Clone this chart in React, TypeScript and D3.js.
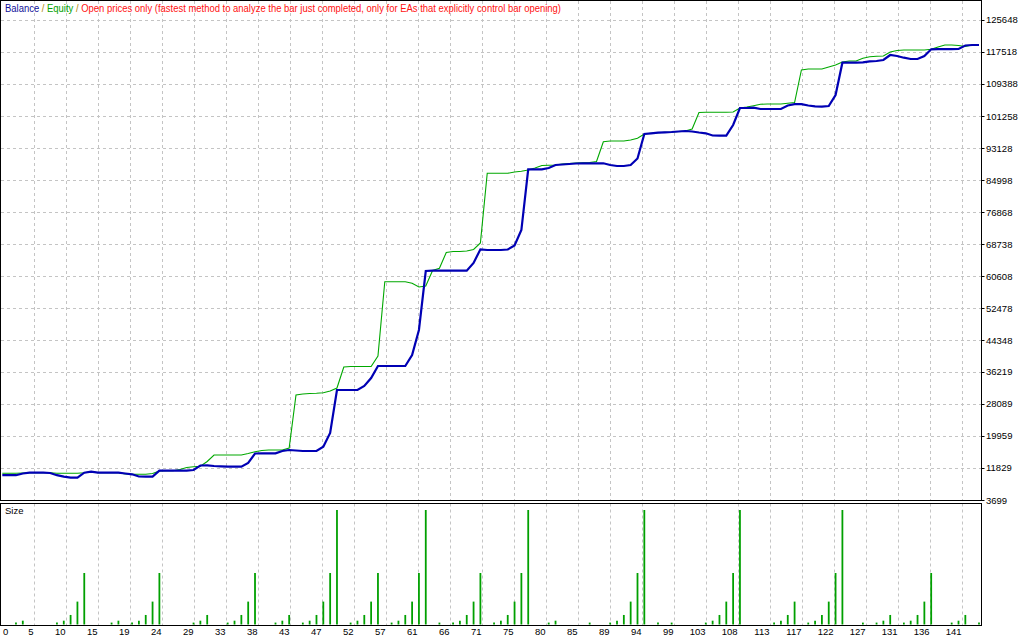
import React from 'react';
import * as d3 from 'd3';

// balance after each deal
const balance = [
  10000, 10000, 10000, 10432, 10635, 10635, 10635, 10559, 10000, 9619,
  9365, 9365, 10635, 10889, 10635, 10635, 10635, 10635, 10432, 10228,
  9669, 9619, 9619, 11143, 11143, 11143, 11143, 11143, 11321, 12464,
  12515, 12337, 12261, 12159, 12159, 12159, 13099, 15513, 15564, 15564,
  15564, 16148, 16402, 16275, 16148, 16148, 16148, 17240, 20721, 31646,
  31646, 31646, 31646, 32662, 34694, 37743, 37743, 37743, 37743, 37743,
  40538, 46889, 61879, 61955, 61955, 61955, 61955, 61955, 61955, 63911,
  67392, 67214, 67214, 67214, 67341, 68357, 72295, 87717, 87717, 87717,
  88047, 88809, 88936, 89063, 89190, 89241, 89241, 89241, 89241, 88809,
  88555, 88555, 88809, 90460, 96685, 96863, 97015, 97117, 97193, 97320,
  97447, 97320, 97066, 96863, 96304, 96253, 96253, 98972, 103291, 103291,
  103367, 103036, 103036, 103036, 103036, 103926, 104256, 104256, 103926, 103722,
  103621, 103799, 106593, 114799, 114799, 114799, 114901, 115155, 115231, 115485,
  116756, 116502, 116069, 115739, 115739, 116502, 118204, 118230, 118230, 118230,
  118280, 119169, 119296, 119296,
];

const equity = [
  10482, 10482, 10482, 10559, 10635, 10635, 10635, 10635, 10482, 10482,
  10482, 10482, 10635, 10889, 10635, 10635, 10635, 10635, 10305, 10228,
  10228, 10228, 10432, 11067, 11143, 11143, 11448, 11956, 12159, 12261,
  13480, 15132, 15132, 15132, 15132, 15132, 15513, 15970, 16275, 16402,
  16402, 16402, 16910, 30375, 30629, 30756, 30807, 30934, 31392, 32154,
  37489, 37616, 37616, 37616, 37616, 40284, 59160, 59160, 59160, 59160,
  58754, 57814, 58068, 62006, 62565, 66579, 66833, 66833, 66960, 67341,
  68992, 86700, 86700, 86700, 86700, 87031, 87209, 87539, 88047, 88682,
  88733, 88809, 89063, 89190, 89317, 89368, 89444, 89699, 94729, 94907,
  94907, 94907, 95161, 95593, 96685, 96863, 97015, 97117, 97193, 97320,
  97447, 97955, 102147, 102198, 102198, 102198, 102198, 102274, 103291, 103545,
  103875, 104231, 104307, 104307, 104307, 104485, 104688, 112945, 113199, 113199,
  113199, 113707, 114215, 114977, 115231, 115231, 115917, 116324, 116425, 116502,
  117518, 117899, 118026, 118026, 118026, 118026, 118204, 118788, 119296, 119296,
  119169, 118916, 119296, 119296,
];

// lot size per deal (0 = no bar)
const sizes = [
  0, 0, 0.1, 0.2, 0, 0, 0, 0, 0.1, 0.2,
  0.5, 1.2, 2.7, 0, 0, 0, 0.1, 0.2, 0, 0.1,
  0.2, 0.5, 1.2, 2.7, 0, 0, 0, 0, 0.1, 0.2,
  0.5, 0, 0, 0.1, 0.2, 0.5, 1.2, 2.7, 0, 0,
  0.1, 0.2, 0.5, 0, 0.1, 0.2, 0.5, 1.2, 2.7, 6.0,
  0, 0.1, 0.2, 0.5, 1.2, 2.7, 0, 0.1, 0.2, 0.5,
  1.2, 2.7, 6.0, 0, 0.1, 0, 0.1, 0.2, 0.5, 1.2,
  2.7, 0, 0.1, 0.2, 0.5, 1.2, 2.7, 6.0, 0, 0,
  0.1, 0.2, 0, 0, 0, 0, 0.1, 0, 0, 0.1,
  0.2, 0.5, 1.2, 2.7, 6.0, 0, 0.1, 0, 0.1, 0,
  0, 0, 0, 0.1, 0.2, 0.5, 1.2, 2.7, 6.0, 0,
  0, 0, 0, 0.1, 0.2, 0.5, 1.2, 0, 0.1, 0.2,
  0.5, 1.2, 2.7, 6.0, 0, 0, 0.1, 0, 0.1, 0.2,
  0.5, 0, 0.1, 0.2, 0.5, 1.2, 2.7, 0, 0, 0.1,
  0.2, 0.5, 0, 0.1,
];

const yTicks = [
  3699, 11829, 19959, 28089, 36219, 44348, 52478, 60608,
  68738, 76868, 84998, 93128, 101258, 109388, 117518, 125648,
];
const yDomain = [3699, 130729];

const xTickLabels = [
  '0', '5', '10', '15', '19', '24', '29', '33', '38', '43', '47',
  '52', '57', '61', '66', '71', '75', '80', '85', '89', '94',
  '99', '103', '108', '113', '117', '122', '127', '131', '136', '141',
];
const xTickStep = 4.686; // deals between vertical grid lines

const W = 1024;
const H = 640;
const axisX = 981.5;
const mainBottom = 500.5;
const sizeTop = 503.5;
const sizeBottom = 625.5;
const font = '"Liberation Sans", Arial, sans-serif';
const gridColor = '#c4c4c4';

const App: React.FC = () => {
  const x = d3.scaleLinear().domain([0, balance.length - 1]).range([2.3, 979]);
  const y = d3.scaleLinear().domain(yDomain).range([500, 0]);
  const ys = d3.scaleLinear().domain([0, d3.max(sizes) as number]).range([624.5, 510]);

  const line = d3
    .line<number>()
    .x((_, i) => x(i))
    .y((d) => y(d));

  const gridX = xTickLabels.map((_, k) => Math.round(x(k * xTickStep)) + 0.5);

  return (
    <svg
      width={W}
      height={H}
      style={{ position: 'absolute', left: 0, top: 0, background: '#fff' }}
      fontFamily={font}
    >
      <rect x={0} y={0} width={W} height={H} fill="#fff" />

      {/* horizontal grid */}
      {yTicks.slice(1).map((t) => (
        <line
          key={t}
          x1={1}
          x2={axisX}
          y1={Math.round(y(t)) + 0.5}
          y2={Math.round(y(t)) + 0.5}
          stroke={gridColor}
          strokeDasharray="3,3"
        />
      ))}
      {/* vertical grid, both panels */}
      {gridX.slice(1).map((gx, k) => (
        <g key={k}>
          <line x1={gx} x2={gx} y1={1} y2={mainBottom} stroke={gridColor} strokeDasharray="3,3" />
          <line x1={gx} x2={gx} y1={sizeTop} y2={sizeBottom} stroke={gridColor} strokeDasharray="3,3" />
        </g>
      ))}

      <path d={line(equity) ?? ''} fill="none" stroke="#00a800" strokeWidth={1.1} />
      <path d={line(balance) ?? ''} fill="none" stroke="#0000b4" strokeWidth={2.2} />

      {/* size bars */}
      {sizes.map((s, i) =>
        s > 0 ? (
          <line
            key={i}
            x1={x(i)}
            x2={x(i)}
            y1={ys(0)}
            y2={ys(s)}
            stroke="#00a000"
            strokeWidth={1.8}
          />
        ) : null
      )}

      {/* frames */}
      <rect x={0.5} y={0.5} width={axisX - 0.5} height={mainBottom - 0.5} fill="none" stroke="#000" />
      <rect x={0.5} y={sizeTop} width={axisX - 0.5} height={sizeBottom - sizeTop} fill="none" stroke="#000" />

      {/* right axis */}
      {yTicks.map((t) => (
        <g key={t}>
          <line x1={axisX} x2={axisX + 3} y1={Math.round(y(t)) + 0.5} y2={Math.round(y(t)) + 0.5} stroke="#000" />
          <text x={986} y={y(t) + 3.5} fontSize={9.5} fill="#000">
            {t}
          </text>
        </g>
      ))}

      {/* bottom axis */}
      {xTickLabels.map((l, k) => (
        <text
          key={l}
          x={k === 0 ? 3 : gridX[k] - 1}
          y={635}
          fontSize={9.5}
          textAnchor={k === 0 ? 'start' : 'end'}
          fill="#000"
        >
          {l}
        </text>
      ))}

      <text x={5} y={514} fontSize={9.5} fill="#000">
        Size
      </text>

      <text x={5} y={11.5} fontSize={10} textLength={556} lengthAdjust="spacingAndGlyphs">
        <tspan fill="#10109a">Balance</tspan>
        <tspan fill="#b08800"> / </tspan>
        <tspan fill="#00a000">Equity</tspan>
        <tspan fill="#b08800"> / </tspan>
        <tspan fill="#ff1010">
          Open prices only (fastest method to analyze the bar just completed, only for EAs that explicitly control bar opening)
        </tspan>
      </text>
    </svg>
  );
};

export default App;
